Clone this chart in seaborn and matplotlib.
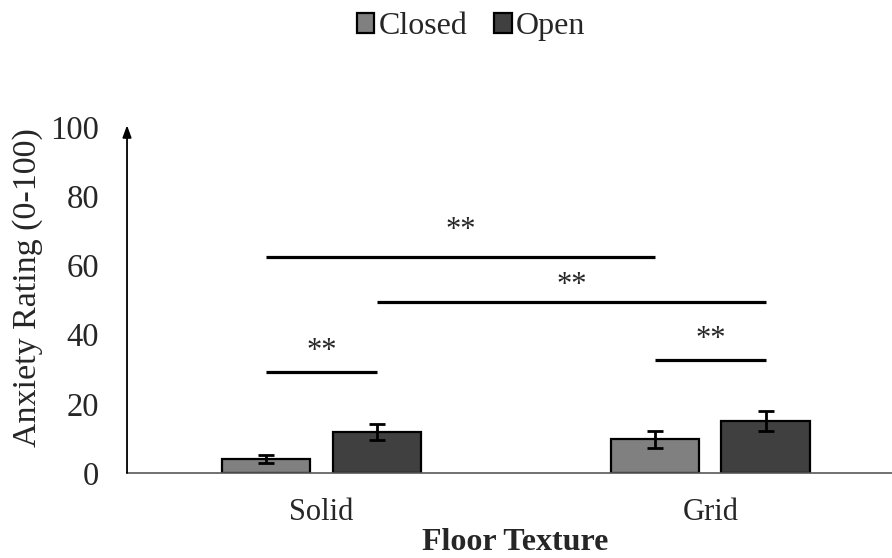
import matplotlib
matplotlib.use("Agg")
import matplotlib.pyplot as plt
import seaborn as sns
import pandas as pd

# Mean anxiety ratings (0-100) with error bars, by floor texture and arm type
floor = ["Solid", "Grid"]
arms = ["Closed", "Open"]
closed_means = [4.1, 9.7]
open_means = [11.9, 15.0]
closed_err = [1.2, 2.4]
open_err = [2.3, 2.9]

# Significance brackets: (floor index, arm index) -> (floor index, arm index), height
sig_pairs = [((0, 0), (1, 0), 62.5),
             ((0, 1), (1, 1), 49.5),
             ((0, 0), (0, 1), 29.1),
             ((1, 0), (1, 1), 32.6)]
sig_label = "**"
star_gap = [7.7, 4.8, 5.9, 5.9]

sns.set_theme(style="white")
plt.rcParams["font.family"] = ["Liberation Serif", "DejaVu Serif"]

df = pd.DataFrame({
    "Floor Texture": floor * 2,
    "Arm": [arms[0]] * 2 + [arms[1]] * 2,
    "Rating": closed_means + open_means,
})

fig = plt.figure(figsize=(8.92, 5.58), dpi=100)
ax = fig.add_axes([0.1424, 0.1523, 0.872, 0.6201])

sns.barplot(data=df, x="Floor Texture", y="Rating", hue="Arm",
            order=floor, hue_order=arms,
            palette={"Closed": "#808080", "Open": "#404040"},
            width=0.57, gap=0.2, errorbar=None,
            edgecolor="black", linewidth=1.6, ax=ax)

# Bar centres from the drawn patches, grouped by hue
bars = [p for p in ax.patches if p.get_height() > 0]
centers = {}
for p in bars:
    cx = p.get_x() + p.get_width() / 2
    centers.setdefault(round(p.get_facecolor()[0], 2), []).append((cx, p.get_height()))
hue_keys = sorted(centers.keys(), reverse=True)  # lighter (Closed) first
pos = {}
for ai, key in enumerate(hue_keys):
    for fi, (cx, h) in enumerate(sorted(centers[key])):
        pos[(fi, ai)] = cx

errs = [closed_err, open_err]
means = [closed_means, open_means]
for ai in range(2):
    xs = [pos[(fi, ai)] for fi in range(2)]
    ax.errorbar(xs, means[ai], yerr=errs[ai], fmt="none", ecolor="black",
                elinewidth=2, capsize=5.5, capthick=2, zorder=5)

for (a, b, h), g in zip(sig_pairs, star_gap):
    x0, x1 = pos[a], pos[b]
    ax.plot([x0, x1], [h, h], color="black", lw=2.3, solid_capstyle="butt")
    ax.text((x0 + x1) / 2, h + g, sig_label, ha="center", va="center",
            fontsize=22)

ax.set_xlim(-0.5, 1.5)
ax.set_ylim(0, 100)
ax.set_yticks([0, 20, 40, 60, 80, 100])
ax.tick_params(axis="both", length=0)
ax.tick_params(axis="y", pad=20, labelsize=23.5)
ax.tick_params(axis="x", pad=18, labelsize=22)

for s in ["top", "right", "left"]:
    ax.spines[s].set_visible(False)
ax.spines["bottom"].set_color("#595959")
ax.spines["bottom"].set_linewidth(1.2)

# Vertical axis drawn as an arrow
ax.annotate("", xy=(0, 1.005), xytext=(0, 0), xycoords="axes fraction",
            arrowprops=dict(arrowstyle="-|>,head_length=0.6,head_width=0.22",
                            color="black", lw=1.3, shrinkA=0, shrinkB=0))

ax.set_ylabel("Anxiety Rating (0-100)", fontsize=24.5)
ax.yaxis.set_label_coords(-0.108, 0.536)
ax.set_xlabel("")
fig.text(0.5772, 7.5 / 558, "Floor Texture", fontsize=23, fontweight="bold",
         ha="center", va="baseline")

handles, labels = ax.get_legend_handles_labels()
ax.legend_.remove()
fig.legend(handles, labels, loc="center", bbox_to_anchor=(0.528, 0.952),
           ncol=2, frameon=False, fontsize=23, handlelength=0.55,
           handleheight=0.55, handletextpad=0.12, columnspacing=0.85)

fig.savefig("out.png", dpi=100)
